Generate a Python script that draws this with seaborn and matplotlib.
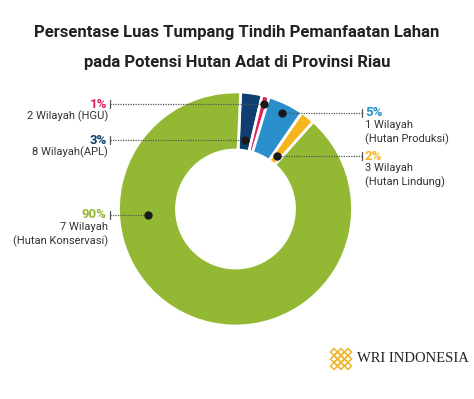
import numpy as np
import matplotlib.pyplot as plt
import seaborn as sns
from matplotlib.patches import Polygon

# data (clockwise from the top)
categories = ["APL", "HGU", "Hutan Produksi", "Hutan Lindung", "Hutan Konservasi"]
percent = [3, 1, 5, 2, 90]
pct_labels = ["3%", "1%", "5%", "2%", "90%"]
sub_labels = ["8 Wilayah(APL)", "2 Wilayah (HGU)", "1 Wilayah\n(Hutan Produksi)",
              "3 Wilayah\n(Hutan Lindung)", "7 Wilayah\n(Hutan Konservasi)"]
colors = ["#0f3f70", "#e0245a", "#2a8fca", "#f6b51d", "#93b934"]

sns.set_theme(style="white")
plt.rcParams["font.family"] = ["Roboto", "DejaVu Sans"]

W, H = 474, 399
fig = plt.figure(figsize=(W / 100, H / 100), dpi=100)
ax = fig.add_axes([0, 0, 1, 1])

cx, cy, R = 235.5, H - 209, 117
wedges, _ = ax.pie(percent, colors=colors, startangle=87.5, counterclock=False,
                   center=(cx, cy), radius=R,
                   wedgeprops=dict(width=58, edgecolor="white", linewidth=2))
ax.set_xlim(0, W)
ax.set_ylim(0, H)
ax.set_aspect("equal")
ax.axis("off")

def Y(y):
    return H - y

# title
ax.text(237, Y(32), "Persentase Luas Tumpang Tindih Pemanfaatan Lahan",
        ha="center", va="center", fontsize=12, fontweight="bold", color="#222222")
ax.text(237, Y(62), "pada Potensi Hutan Adat di Provinsi Riau",
        ha="center", va="center", fontsize=12, fontweight="bold", color="#222222")

# labels with leader lines
line_y = [140, 104, 113, 156, 215]
side = ["L", "L", "R", "R", "L"]
for i, w in enumerate(wedges):
    ly = Y(line_y[i])
    a = np.deg2rad((w.theta1 + w.theta2) / 2)
    if categories[i] == "Hutan Konservasi":
        rm = R - 29
        px = cx - np.sqrt(rm ** 2 - (ly - cy) ** 2)
    else:
        r = (ly - cy) / np.sin(a)
        px = cx + r * np.cos(a)
    if side[i] == "L":
        x0, tx, ha = 110, 107, "right"
    else:
        x0, tx, ha = 362, 365, "left"
    ax.plot([x0, px], [ly, ly], ls=(0, (1, 1)), color="#555555", lw=0.9)
    ax.plot([x0, x0], [ly - 4, ly + 4], color="#555555", lw=0.9)
    ax.plot(px, ly, "o", color="#1a1a1a", ms=5)
    ax.text(tx, ly, pct_labels[i], ha=ha, va="center", fontsize=9.5,
            fontweight="bold", color=colors[i])
    ax.text(tx + (1 if ha == "right" else 0), ly - 7, sub_labels[i], ha=ha, va="top",
            fontsize=8, color="#333333", linespacing=1.35)

# logo
gold = "#f0b429"
lx, lyc = 341, Y(359)
s = 3.5
for i in range(-2, 3):
    for j in range(-2, 3):
        if abs(i) + abs(j) > 2:
            continue
        qx, qy = lx + (i - j) * s, lyc + (i + j) * s
        ax.add_patch(Polygon([(qx, qy + s), (qx + s, qy), (qx, qy - s), (qx - s, qy)],
                             closed=True, fill=False, ec=gold, lw=1.1))
ax.text(469, Y(359), "WRI INDONESIA", ha="right", va="center",
        fontsize=10.5, family=["Liberation Serif", "DejaVu Serif"], color="#222222")

fig.savefig("out.png", dpi=100, facecolor="white")
